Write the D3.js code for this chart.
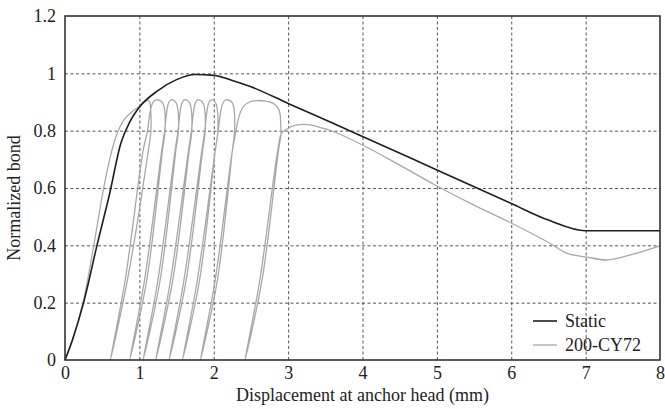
<!DOCTYPE html>
<html>
<head>
<meta charset="utf-8">
<script src="https://cdn.jsdelivr.net/npm/d3@7"></script>
<style>
  body { margin: 0; background: #fff; }
  svg text { font-family: "Liberation Serif", "DejaVu Serif", serif; fill: #222; }
  .grid line { stroke: #555; stroke-dasharray: 3,2.5; stroke-width: 1; }
  .grid path { display: none; }
</style>
</head>
<body>
<svg class="d3" width="665" height="409"></svg>
<script>
// x ticks / y ticks
var xTicks = [0, 1, 2, 3, 4, 5, 6, 7, 8];
var yTicks = [0, 0.2, 0.4, 0.6, 0.8, 1, 1.2];

// Static test (displacement mm, normalized bond)
var staticCurve = [
  [0, 0], [0.1, 0.07], [0.25, 0.2], [0.43, 0.4], [0.6, 0.58], [0.75, 0.755],
  [0.87, 0.83], [1.0, 0.882], [1.25, 0.94], [1.5, 0.978], [1.75, 0.996],
  [2.0, 0.993], [2.25, 0.975], [2.5, 0.953], [3.0, 0.895], [4.0, 0.78],
  [5.0, 0.663], [6.0, 0.546], [6.5, 0.488], [7.0, 0.451], [8.0, 0.451]
];

// 200-CY72 cyclic test, traced point by point
var cyclicCurve = [
  // first loading
  [0, 0], [0.1, 0.07], [0.25, 0.21], [0.4, 0.42], [0.52, 0.6], [0.62, 0.72],
  [0.7, 0.79], [0.8, 0.84], [0.9, 0.866], [1.0, 0.885], [1.07, 0.9],
  [1.12, 0.906], [1.14, 0.9], [1.15, 0.88], [1.155, 0.8],
  [1.12, 0.73], [0.84, 0.28], [0.61, 0],
  // cycle 1
  [0.81, 0.28], [1.05, 0.73], [1.11, 0.8], [1.14, 0.86], [1.18, 0.897], [1.22, 0.907],
  [1.27, 0.906], [1.31, 0.898], [1.335, 0.88], [1.345, 0.8],
  [1.31, 0.73], [1.1, 0.28], [0.87, 0],
  // cycle 2
  [1.07, 0.28], [1.3, 0.73], [1.34, 0.8], [1.365, 0.86], [1.39, 0.895], [1.42, 0.907],
  [1.46, 0.906], [1.495, 0.897], [1.515, 0.88], [1.525, 0.8],
  [1.49, 0.73], [1.28, 0.28], [1.05, 0],
  // cycle 3
  [1.25, 0.28], [1.48, 0.73], [1.52, 0.8], [1.545, 0.86], [1.57, 0.895], [1.6, 0.907],
  [1.64, 0.906], [1.675, 0.897], [1.695, 0.88], [1.705, 0.8],
  [1.67, 0.73], [1.45, 0.28], [1.22, 0],
  // cycle 4
  [1.42, 0.28], [1.66, 0.73], [1.7, 0.8], [1.725, 0.86], [1.75, 0.895], [1.78, 0.907],
  [1.82, 0.906], [1.855, 0.897], [1.875, 0.88], [1.885, 0.8],
  [1.85, 0.73], [1.63, 0.28], [1.4, 0],
  // cycle 5
  [1.6, 0.28], [1.84, 0.73], [1.88, 0.8], [1.905, 0.86], [1.93, 0.895], [1.96, 0.907],
  [1.995, 0.906], [2.025, 0.897], [2.045, 0.88], [2.055, 0.8],
  [2.02, 0.73], [1.81, 0.28], [1.58, 0],
  // cycle 6
  [1.78, 0.28], [2.02, 0.73], [2.06, 0.8], [2.09, 0.86], [2.12, 0.895], [2.16, 0.907],
  [2.21, 0.906], [2.25, 0.897], [2.27, 0.88], [2.28, 0.8],
  [2.25, 0.73], [2.05, 0.28], [1.82, 0],
  // cycle 7 (broad)
  [2.02, 0.28], [2.25, 0.73], [2.3, 0.8], [2.34, 0.85], [2.4, 0.885], [2.48, 0.9],
  [2.58, 0.905], [2.7, 0.903], [2.8, 0.895], [2.86, 0.88], [2.89, 0.86],
  [2.9, 0.82], [2.905, 0.79],
  [2.87, 0.73], [2.65, 0.28], [2.42, 0],
  // reload and softening branch
  [2.62, 0.28], [2.86, 0.73], [2.91, 0.79], [2.98, 0.805], [3.05, 0.815],
  [3.15, 0.821], [3.3, 0.82], [3.45, 0.81], [3.6, 0.798], [4.0, 0.75],
  [4.5, 0.68], [5.0, 0.607], [5.5, 0.54], [6.0, 0.478], [6.5, 0.41],
  [6.75, 0.372], [7.0, 0.36], [7.3, 0.349], [7.65, 0.37], [8.0, 0.398]
];

var legendNames = ["Static", "200-CY72"];
var legendColors = ["#1e1e1e", "#a8a8a8"];

var svg = d3.select("svg.d3"),
    W = +svg.attr("width"),
    H = +svg.attr("height");

var margin = {top: 16, right: 5, bottom: 49, left: 65},
    w = W - margin.left - margin.right,
    h = H - margin.top - margin.bottom;

var g = svg.append("g").attr("transform", "translate(" + margin.left + "," + margin.top + ")");

var x = d3.scaleLinear().domain([0, 8]).range([0, w]);
var y = d3.scaleLinear().domain([0, 1.2]).range([h, 0]);

// dashed grid
g.append("g").attr("class", "grid")
    .attr("transform", "translate(0," + h + ")")
    .call(d3.axisBottom(x).tickValues(xTicks.slice(1, -1)).tickSize(-h).tickFormat(""));
g.append("g").attr("class", "grid")
    .call(d3.axisLeft(y).tickValues(yTicks.slice(1, -1)).tickSize(-w).tickFormat(""));

// tick labels
var xAxis = g.append("g")
    .attr("transform", "translate(0," + h + ")")
    .call(d3.axisBottom(x).tickValues(xTicks).tickSize(0).tickPadding(6).tickFormat(d3.format("d")));
var yAxis = g.append("g")
    .call(d3.axisLeft(y).tickValues(yTicks).tickSize(0).tickPadding(9).tickFormat(function(d) { return d3.format("")(d); }));
[xAxis, yAxis].forEach(function(a) {
  a.select(".domain").remove();
  a.selectAll("text").style("font-size", "18px").style("font-family", "Liberation Serif").attr("fill", "#222");
});

// curves
var line = d3.line()
    .x(function(d) { return x(d[0]); })
    .y(function(d) { return y(d[1]); });

g.append("path")
    .datum(cyclicCurve)
    .attr("fill", "none")
    .attr("stroke", legendColors[1])
    .attr("stroke-width", 1.3)
    .attr("stroke-linejoin", "round")
    .attr("d", line.curve(d3.curveCatmullRom.alpha(0.5)));

g.append("path")
    .datum(staticCurve)
    .attr("fill", "none")
    .attr("stroke", legendColors[0])
    .attr("stroke-width", 1.6)
    .attr("d", line.curve(d3.curveMonotoneX));

// frame
g.append("rect")
    .attr("width", w).attr("height", h)
    .attr("fill", "none")
    .attr("stroke", "#333")
    .attr("stroke-width", 1.6);

// axis titles
svg.append("text")
    .attr("x", margin.left + w / 2).attr("y", 401)
    .attr("text-anchor", "middle")
    .style("font-size", "18px")
    .text("Displacement at anchor head (mm)");

svg.append("text")
    .attr("transform", "translate(20,198) rotate(-90)")
    .attr("text-anchor", "middle")
    .style("font-size", "18px")
    .text("Normalized bond");

// legend
var legend = svg.selectAll(".legend")
    .data(legendNames)
    .enter().append("g")
    .attr("transform", function(d, i) { return "translate(533," + (321 + i * 24) + ")"; });
legend.append("line")
    .attr("x1", 0).attr("x2", 24)
    .attr("stroke", function(d, i) { return legendColors[i]; })
    .attr("stroke-width", function(d, i) { return i ? 1.3 : 1.6; });
legend.append("text")
    .attr("x", 32).attr("y", 6)
    .style("font-size", "18px")
    .text(function(d) { return d; });
</script>
</body>
</html>
